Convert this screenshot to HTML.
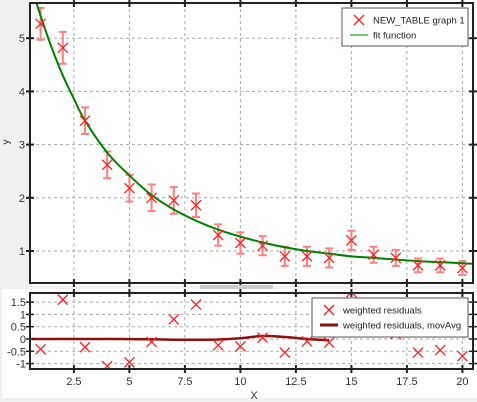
<!DOCTYPE html>
<html><head><meta charset="utf-8"><style>
body{margin:0;background:#f0f0f0;}
svg{display:block;font-family:"Liberation Sans",sans-serif;}
</style></head><body>
<svg id="chart" width="477" height="402">
<rect x="30" y="0" width="447" height="286" fill="#fff"/>
<rect x="2" y="289" width="475" height="109" fill="#fff"/>
<g id="g"></g>
</svg>
<script>
const xs=[1,2,3,4,5,6,7,8,9,10,11,12,13,14,15,16,17,18,19,20];
const ys=[5.27,4.82,3.45,2.62,2.18,2.0,1.95,1.86,1.3,1.15,1.1,0.9,0.9,0.87,1.2,0.93,0.87,0.73,0.73,0.68];
const errs=[0.3,0.3,0.25,0.25,0.25,0.25,0.25,0.22,0.2,0.2,0.18,0.18,0.18,0.18,0.18,0.15,0.15,0.13,0.13,0.13];
const fitX=[0.8,1,1.5,2,2.5,3,4,5,6,7,8,9,10,11,12,13,14,15,16,17,18,19,20,20.5];
const fitY=[5.68,5.42,4.82,4.3,3.86,3.45,2.85,2.42,2.05,1.78,1.57,1.4,1.27,1.16,1.07,1.0,0.95,0.9,0.87,0.84,0.81,0.79,0.77,0.76];
const resY=[-0.42,1.6,-0.33,-1.1,-0.95,-0.12,0.8,1.4,-0.25,-0.3,0.05,-0.55,-0.1,-0.15,1.9,0.3,0.2,-0.55,-0.45,-0.7];
const maX=[0.6,2,4,6,7,8,9,10,11,12,13,14];
const maY=[0,0,0,-0.01,-0.03,-0.03,-0.02,0.03,0.12,0.08,0.0,-0.05];
const xTicks=[2.5,5,7.5,10,12.5,15,17.5,20];
const yTicks=[1,2,3,4,5];
const rTicks=[1.5,1,0.5,0,-0.5,-1];
const rTickLabels=["1.5","1","0.5","0","-0.5","-1"];

const L=30,R=473;
const X=v=>40.6+(v-1)*22.2;
const T0=3,T1=283,Y=v=>251-(v-1)*53.2;
const B0=293,B1=369,RY=v=>339-v*24.6;
const NS="http://www.w3.org/2000/svg";
const g=document.getElementById('g');
function el(t,a,txt){const e=document.createElementNS(NS,t);for(const k in a)e.setAttribute(k,a[k]);if(txt!==undefined)e.textContent=txt;g.appendChild(e);return e;}
function smooth(P){let d=`M${P[0][0]},${P[0][1]}`;for(let i=0;i<P.length-1;i++){const p0=P[Math.max(i-1,0)],p1=P[i],p2=P[i+1],p3=P[Math.min(i+2,P.length-1)];d+=`C${p1[0]+(p2[0]-p0[0])/6},${p1[1]+(p2[1]-p0[1])/6} ${p2[0]-(p3[0]-p1[0])/6},${p2[1]-(p3[1]-p1[1])/6} ${p2[0]},${p2[1]}`;}return d;}

const defs=el('defs',{});
defs.innerHTML='<clipPath id="c1"><rect x="'+L+'" y="'+T0+'" width="'+(R-L)+'" height="'+(T1-T0)+'"/></clipPath><clipPath id="c2"><rect x="'+L+'" y="'+B0+'" width="'+(R-L)+'" height="'+(B1-B0)+'"/></clipPath>';

xTicks.forEach(v=>{
 let e=el('line',{x1:X(v),x2:X(v),y1:T0,y2:T1,stroke:'#aaa','stroke-dasharray':'3,3'});
 
 e=el('line',{x1:X(v),x2:X(v),y1:B0,y2:B1,stroke:'#aaa','stroke-dasharray':'3,3'});
 
});
yTicks.forEach(v=>{
 const e=el('line',{x1:L,x2:R,y1:Y(v),y2:Y(v),stroke:'#aaa','stroke-dasharray':'3,3'});
 
});
rTicks.forEach(v=>{
 const e=el('line',{x1:L,x2:R,y1:RY(v),y2:RY(v),stroke:'#aaa','stroke-dasharray':'3,3'});
 
});

const pc='#ff8080';
xs.forEach((x,i)=>{
 const cx=X(x),t=Y(ys[i]+errs[i]),b=Y(ys[i]-errs[i]);
 const eb=el('path',{d:`M${cx},${t}V${b}M${cx-4},${t}H${cx+4}M${cx-4},${b}H${cx+4}`,stroke:pc,'stroke-width':2,fill:'none','clip-path':'url(#c1)'});
 
});
const fc=el('path',{d:smooth(fitX.map((x,i)=>[X(x),Y(fitY[i])])),fill:'none',stroke:'#008000','stroke-width':2,'clip-path':'url(#c1)'});

xs.forEach((x,i)=>{
 const cx=X(x),cy=Y(ys[i]);
 const m=el('path',{d:`M${cx-5},${cy-5}L${cx+5},${cy+5}M${cx-5},${cy+5}L${cx+5},${cy-5}`,stroke:'#ff2020','stroke-width':1.3,'clip-path':'url(#c1)'});
 
});
const ma=el('path',{d:smooth(maX.map((x,i)=>[X(x),RY(maY[i])])),fill:'none',stroke:'#8b1010','stroke-width':2.5,'clip-path':'url(#c2)'});

xs.forEach((x,i)=>{
 const cx=X(x),cy=RY(resY[i]);
 const m=el('path',{d:`M${cx-5},${cy-5}L${cx+5},${cy+5}M${cx-5},${cy+5}L${cx+5},${cy-5}`,stroke:'#ff2020','stroke-width':1.3,'clip-path':'url(#c2)'});
 
});

let f=el('rect',{x:L,y:T0,width:R-L,height:T1-T0,fill:'none',stroke:'#222','stroke-width':2});

f=el('rect',{x:L,y:B0,width:R-L,height:B1-B0,fill:'none',stroke:'#222','stroke-width':2});


xTicks.forEach(v=>{
 [T0,T1,B0,B1].forEach(yy=>{const t=el('line',{x1:X(v),x2:X(v),y1:yy-4,y2:yy+4,stroke:'#222','stroke-width':2});});
 const lb=el('text',{x:X(v),y:385,'font-size':11,'text-anchor':'middle',fill:'#333'},String(v));
 
});
yTicks.forEach(v=>{
 const t=el('line',{x1:L-4,x2:L+4,y1:Y(v),y2:Y(v),stroke:'#222','stroke-width':2});
 const t2=el('line',{x1:R-4,x2:R+4,y1:Y(v),y2:Y(v),stroke:'#222','stroke-width':2});
 const lb=el('text',{x:L-5,y:Y(v)+4,'font-size':11,'text-anchor':'end',fill:'#333'},String(v));
 
});
rTicks.forEach((v,i)=>{
 const t=el('line',{x1:L-4,x2:L+4,y1:RY(v),y2:RY(v),stroke:'#222','stroke-width':1.5});
 const t2=el('line',{x1:R-4,x2:R+4,y1:RY(v),y2:RY(v),stroke:'#222','stroke-width':1.5});
 const lb=el('text',{x:L-4,y:RY(v)+4,'font-size':11,'text-anchor':'end',fill:'#333'},rTickLabels[i]);
 
});

let tt=el('text',{x:254,y:399,'font-size':11,'text-anchor':'middle',fill:'#333'},'X');

tt=el('text',{x:9,y:142,'font-size':10,'text-anchor':'middle',fill:'#333',transform:'rotate(-90 9 142)'},'y');


const sp=el('rect',{x:200,y:285,width:73,height:4,fill:'#ccc'});


function legend(x,y,w,h,items,name){
 const r=el('rect',{x,y,width:w,height:h,fill:'#fff',stroke:'#555'});
 
 items.forEach((it,i)=>{
  const cy=y+12+i*15;
  if(it.t==='x'){const m=el('path',{d:`M${x+12},${cy-5}L${x+22},${cy+5}M${x+12},${cy+5}L${x+22},${cy-5}`,stroke:'#ff2020','stroke-width':1.3});}
  else {const m=el('line',{x1:x+8,x2:x+26,y1:cy,y2:cy,stroke:it.c,'stroke-width':it.w});}
  const tx=el('text',{x:x+31,y:cy+3.5,'font-size':9.5,fill:'#222'},it.s);
  
 });
}
legend(342,8,126,38,[{t:'x',s:'NEW_TABLE graph 1'},{t:'l',c:'#50b050',w:1.5,s:'fit function'}],'fit-legend');
legend(312,298,156,39,[{t:'x',s:'weighted residuals'},{t:'l',c:'#8b1010',w:3,s:'weighted residuals, movAvg'}],'residual-legend');
</script>
</body></html>
